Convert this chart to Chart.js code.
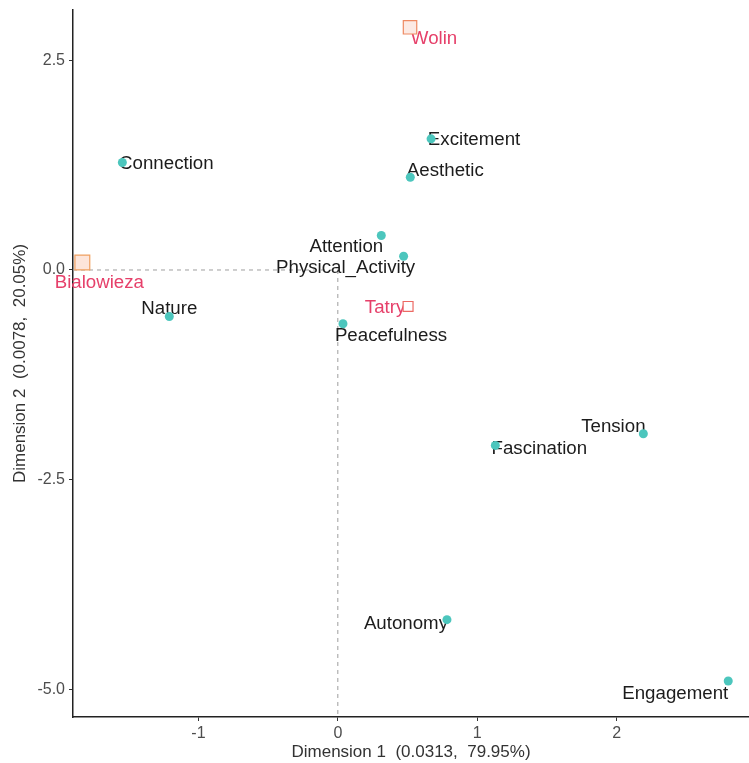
<!DOCTYPE html>
<html>
<head>
<meta charset="utf-8">
<script src="https://cdn.jsdelivr.net/npm/chart.js@4.4.1/dist/chart.umd.min.js"></script>
<style>
  html, body { margin: 0; padding: 0; background: #ffffff; }
  #wrap { width: 749px; height: 763px; }
</style>
</head>
<body>
<div id="wrap"><canvas id="c" width="749" height="763"></canvas></div>
<script>
// Column categories (experience dimensions)
const colNames = ['Connection', 'Nature', 'Excitement', 'Aesthetic', 'Attention', 'Physical_Activity',
                  'Peacefulness', 'Tension', 'Fascination', 'Autonomy', 'Engagement'];
const colDim1 = [-1.546, -1.209, 0.669, 0.520, 0.312, 0.472, 0.037, 2.192, 1.130, 0.783, 2.801];
const colDim2 = [1.281, -0.554, 1.564, 1.106, 0.411, 0.164, -0.641, -1.952, -2.092, -4.169, -4.901];

// Row categories (sites)
const rowNames = ['Bialowieza', 'Wolin', 'Tatry'];
const rowDim1 = [-1.833, 0.518, 0.504];
const rowDim2 = [0.089, 2.894, -0.435];

// Axis ticks
const xTicks = [-1, 0, 1, 2];
const yTicks = [-5, -2.5, 0, 2.5];

const FONT = '"Liberation Sans", Arial, Helvetica, sans-serif';

// Text nudges (pixels) so labels sit beside their markers
const labelNudge = {
  Connection: [44, 1.5], Bialowieza: [17, 20.5], Nature: [0, -7.5], Wolin: [24, 11.5],
  Excitement: [43, 1.5], Aesthetic: [35, -6.5], Attention: [-35, 11.5], Physical_Activity: [-58, 11.5],
  Tatry: [-23, 1.5], Peacefulness: [48, 12.5], Tension: [-30, -6.5], Fascination: [44, 3.5],
  Autonomy: [-41, 4.5], Engagement: [-53, 12.5]
};

const caLabels = {
  id: 'caLabels',
  beforeDatasetsDraw(chart, args, opts) {
    const { ctx, chartArea, scales: { x, y } } = chart;
    const x0 = x.getPixelForValue(0), y0 = y.getPixelForValue(0);
    ctx.save();
    // dashed reference lines through the origin
    ctx.strokeStyle = '#9e9e9e';
    ctx.lineWidth = 1;
    ctx.setLineDash([4, 4]);
    ctx.beginPath();
    ctx.moveTo(chartArea.left, y0); ctx.lineTo(x0, y0);
    ctx.moveTo(x0, y0); ctx.lineTo(x0, chartArea.bottom);
    ctx.stroke();
    ctx.setLineDash([]);
    // category labels
    ctx.font = '18.7px ' + FONT;
    ctx.textAlign = 'center';
    ctx.textBaseline = 'middle';
    chart.data.datasets.forEach((ds, i) => {
      const meta = chart.getDatasetMeta(i);
      ctx.fillStyle = ds.labelColor;
      meta.data.forEach((pt, j) => {
        const name = ds.data[j].name;
        const n = opts.nudge[name] || [0, 0];
        ctx.fillText(name, pt.x + n[0], pt.y + n[1]);
      });
    });
    ctx.restore();
  }
};

const colPoints = colNames.map((n, i) => ({ x: colDim1[i], y: colDim2[i], name: n }));
const rowPoints = rowNames.map((n, i) => ({ x: rowDim1[i], y: rowDim2[i], name: n }));

new Chart(document.getElementById('c'), {
  type: 'scatter',
  data: {
    datasets: [
      {
        label: 'Rows',
        data: rowPoints,
        labelColor: '#E6406A',
        pointStyle: 'rect',
        pointRadius: [10.5, 9.5, 7],
        backgroundColor: ['#FDE5DA', '#FCEAE4', '#FFFFFF'],
        borderColor: ['#F0A060', '#EE8A62', '#EC6A64'],
        borderWidth: 1.2
      },
      {
        label: 'Columns',
        data: colPoints,
        labelColor: '#1c1c1c',
        pointStyle: 'circle',
        pointRadius: 4.5,
        backgroundColor: '#4CC6BD',
        borderWidth: 0
      }
    ]
  },
  options: {
    responsive: false,
    animation: false,
    devicePixelRatio: 1,
    layout: { autoPadding: false, padding: { top: 10, right: 0, bottom: 0, left: 0 } },
    plugins: {
      legend: { display: false },
      tooltip: { enabled: false },
      caLabels: { nudge: labelNudge }
    },
    scales: {
      x: {
        type: 'linear',
        min: -1.90,
        max: 2.95,
        afterBuildTicks: s => { s.ticks = xTicks.map(v => ({ value: v })); },
        afterFit: s => { s.height = 46; s.paddingLeft = 0; s.paddingRight = 0; },
        ticks: {
          callback: v => String(v),
          color: '#4d4d4d',
          font: { family: FONT, size: 16 },
          padding: 3,
          maxRotation: 0
        },
        grid: { drawOnChartArea: false, drawTicks: true, tickLength: 4, color: '#333333', lineWidth: 1 },
        border: { display: true, color: '#222222', width: 1.5 },
        title: {
          display: true,
          text: 'Dimension 1  (0.0313,  79.95%)',
          color: '#333333',
          font: { family: FONT, size: 17 },
          padding: { top: 0, bottom: 0 }
        }
      },
      y: {
        type: 'linear',
        min: -5.33,
        max: 3.10,
        afterBuildTicks: s => { s.ticks = yTicks.map(v => ({ value: v })); },
        afterFit: s => { s.width = 73; s.paddingTop = 0; s.paddingBottom = 0; },
        ticks: {
          callback: v => Number(v).toFixed(1),
          color: '#4d4d4d',
          font: { family: FONT, size: 16 },
          padding: 4
        },
        grid: { drawOnChartArea: false, drawTicks: true, tickLength: 4, color: '#333333', lineWidth: 1 },
        border: { display: true, color: '#222222', width: 1.5 },
        title: {
          display: true,
          text: 'Dimension 2  (0.0078,  20.05%)',
          color: '#333333',
          font: { family: FONT, size: 17 },
          padding: { top: 10, bottom: 0 }
        }
      }
    }
  },
  plugins: [caLabels]
});
</script>
</body>
</html>
